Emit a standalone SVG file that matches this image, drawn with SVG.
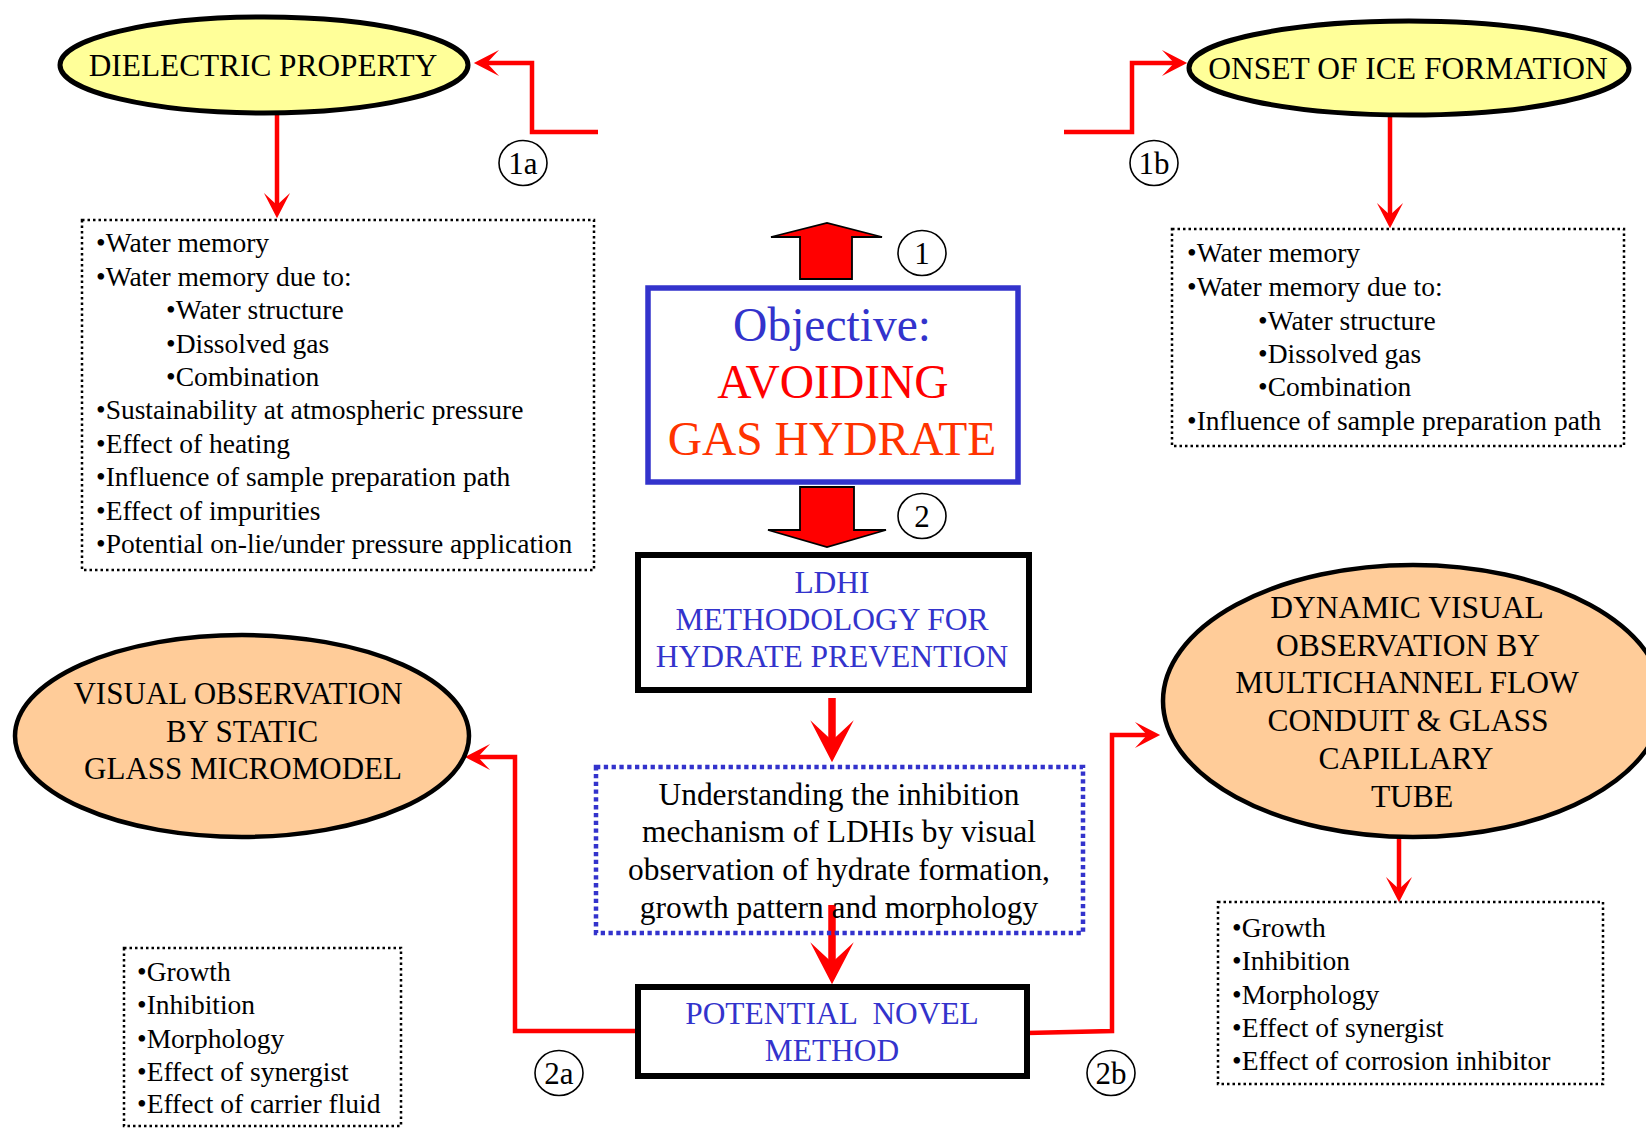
<svg xmlns="http://www.w3.org/2000/svg" width="1646" height="1128" viewBox="0 0 1646 1128">
<defs>
<style>
.t{font-family:"Liberation Serif","Times New Roman",serif;fill:#000;}
.c{text-anchor:middle;}
.pre{white-space:pre;}
.list{font-size:27.5px;}
.blue{fill:#3333CC;}
.yel{fill:#FFFF99;stroke:#000;stroke-width:5;}
.peach{fill:#FFCC99;stroke:#000;stroke-width:4.5;}
.dot{fill:none;stroke:#000;stroke-width:2.5;stroke-dasharray:2.5 3;}
.bdot{fill:none;stroke:#3333CC;stroke-width:4.5;stroke-dasharray:4.3 3.5;}
.thick{fill:#fff;stroke:#000;stroke-width:6;}
.lab{fill:#fff;stroke:#000;stroke-width:1.6;}
.labt{font-size:31px;text-anchor:middle;}
.conn{fill:none;stroke:#FF0000;stroke-width:4.5;marker-end:url(#ah);}
.connw{fill:none;stroke:#FF0000;stroke-width:7.5;marker-end:url(#ah);}
.block{fill:#FF0000;stroke:#000;stroke-width:1.8;}
</style>
<marker id="ah" viewBox="-6.5 -3.5 7 7" refX="-2.7" refY="0" markerWidth="7" markerHeight="7" orient="auto" markerUnits="strokeWidth">
<path d="M0,0 L-5.6,-2.9 L-2.9,0 L-5.6,2.9 Z" fill="#FF0000"/>
</marker>
</defs>
<rect width="1646" height="1128" fill="#fff"/>

<g id="connectors">
<polyline class="conn" points="598,132 532,132 532,63 486,63"/>
<polyline class="conn" points="1064,132 1132,132 1132,63 1175,63"/>
<line class="conn" x1="277" y1="113" x2="277" y2="206"/>
<line class="conn" x1="1390" y1="115" x2="1390" y2="216"/>
<line class="connw" x1="832" y1="698" x2="832" y2="742"/>
<line class="connw" x1="832" y1="905" x2="832" y2="964"/>
<line class="conn" x1="1399" y1="826" x2="1399" y2="890"/>
<polyline class="conn" points="638,1031 515,1031 515,757 477,757"/>
<polyline class="conn" points="1027,1033 1112,1031 1112,735 1148,735"/>
<path class="block" d="M800,279 L800,237 L771,237 L827,223 L882,237 L852,237 L852,279 Z"/>
<path class="block" d="M800,487 L854,487 L854,530 L886,530 L827,547 L768,530 L800,530 Z"/>
</g>

<g id="n-dielectric">
<ellipse class="yel" cx="264" cy="65" rx="204" ry="48"/>
<text class="t c" x="263" y="76" font-size="31.3">DIELECTRIC PROPERTY</text>
</g>

<g id="n-onset">
<ellipse class="yel" cx="1409" cy="68" rx="220" ry="47"/>
<text class="t c" x="1408" y="79" font-size="31.5">ONSET OF ICE FORMATION</text>
</g>

<g id="l-1a"><ellipse class="lab" cx="523" cy="163" rx="24" ry="22.5"/><text class="t labt" x="523" y="174">1a</text></g>
<g id="l-1b"><ellipse class="lab" cx="1154" cy="163" rx="24" ry="22.5"/><text class="t labt" x="1154" y="174">1b</text></g>
<g id="l-1"><ellipse class="lab" cx="922" cy="253" rx="24" ry="22.5"/><text class="t labt" x="922" y="264">1</text></g>
<g id="l-2"><ellipse class="lab" cx="922" cy="516" rx="24" ry="22.5"/><text class="t labt" x="922" y="527">2</text></g>
<g id="l-2a"><ellipse class="lab" cx="559" cy="1073" rx="24" ry="22.5"/><text class="t labt" x="559" y="1084">2a</text></g>
<g id="l-2b"><ellipse class="lab" cx="1111" cy="1073" rx="24" ry="22.5"/><text class="t labt" x="1111" y="1084">2b</text></g>

<g id="n-left-list">
<rect class="dot" x="82" y="220" width="512" height="350"/>
<g class="t list pre">
<text x="96" y="252">•Water memory</text>
<text x="96" y="286">•Water memory  due to:</text>
<text x="166" y="319">•Water structure</text>
<text x="166" y="353">•Dissolved gas</text>
<text x="166" y="386">•Combination</text>
<text x="96" y="419">•Sustainability  at atmospheric  pressure</text>
<text x="96" y="453">•Effect of heating</text>
<text x="96" y="486">•Influence  of sample  preparation  path</text>
<text x="96" y="520">•Effect  of impurities</text>
<text x="96" y="553">•Potential  on-lie/under  pressure  application</text>
</g>
</g>

<g id="n-right-list">
<rect class="dot" x="1172" y="229" width="452" height="217"/>
<g class="t list pre">
<text x="1187" y="262">•Water memory</text>
<text x="1187" y="296">•Water memory  due to:</text>
<text x="1258" y="330">•Water structure</text>
<text x="1258" y="363">•Dissolved gas</text>
<text x="1258" y="396">•Combination</text>
<text x="1187" y="430">•Influence  of sample  preparation  path</text>
</g>
</g>

<g id="n-objective">
<rect x="648" y="288" width="370" height="194" fill="#fff" stroke="#3333CC" stroke-width="5.5"/>
<text class="t c" x="832" y="341" font-size="47.5" style="fill:#3333CC">Objective:</text>
<text class="t c" x="833" y="398" font-size="47.5" style="fill:#FF0000">AVOIDING</text>
<text class="t c" x="832" y="455" font-size="47.5" style="fill:#FF3300">GAS HYDRATE</text>
</g>

<g id="n-ldhi">
<rect class="thick" x="638" y="555" width="391" height="135"/>
<text class="t c blue" x="832" y="593" font-size="31.5">LDHI</text>
<text class="t c blue" x="832" y="630" font-size="31.5">METHODOLOGY FOR</text>
<text class="t c blue" x="832" y="667" font-size="31.5">HYDRATE PREVENTION</text>
</g>

<g id="n-understanding">
<rect class="bdot" x="596" y="767" width="487" height="166"/>
<g class="t c pre" font-size="31.4">
<text x="839" y="805">Understanding  the inhibition</text>
<text x="839" y="842">mechanism  of LDHIs by visual</text>
<text x="839" y="880">observation  of hydrate  formation,</text>
<text x="839" y="918">growth  pattern and morphology</text>
</g>
</g>

<g id="n-potential">
<rect class="thick" x="638" y="987" width="389" height="89"/>
<text class="t c blue pre" x="832" y="1024" font-size="31.4">POTENTIAL  NOVEL</text>
<text class="t c blue" x="832" y="1061" font-size="31.4">METHOD</text>
</g>

<g id="n-visual">
<ellipse class="peach" cx="242" cy="736" rx="227" ry="101"/>
<g class="t c" font-size="31">
<text x="238" y="704">VISUAL OBSERVATION</text>
<text x="242" y="742">BY STATIC</text>
<text x="243" y="779">GLASS MICROMODEL</text>
</g>
</g>

<g id="n-dynamic">
<ellipse class="peach" cx="1413" cy="701" rx="250" ry="136"/>
<g class="t c pre" font-size="31.5">
<text x="1407" y="618">DYNAMIC VISUAL</text>
<text x="1408" y="656">OBSERVATION  BY</text>
<text x="1407" y="693">MULTICHANNEL FLOW</text>
<text x="1408" y="731">CONDUIT &amp; GLASS</text>
<text x="1406" y="769">CAPILLARY</text>
<text x="1412" y="807">TUBE</text>
</g>
</g>

<g id="n-left-bottom-list">
<rect class="dot" x="124" y="948" width="277" height="178"/>
<g class="t list pre">
<text x="137" y="981">•Growth</text>
<text x="137" y="1014">•Inhibition</text>
<text x="137" y="1048">•Morphology</text>
<text x="137" y="1081">•Effect of synergist</text>
<text x="137" y="1113">•Effect of carrier  fluid</text>
</g>
</g>

<g id="n-right-bottom-list">
<rect class="dot" x="1218" y="902" width="385" height="182"/>
<g class="t list pre">
<text x="1232" y="937">•Growth</text>
<text x="1232" y="970">•Inhibition</text>
<text x="1232" y="1004">•Morphology</text>
<text x="1232" y="1037">•Effect  of synergist</text>
<text x="1232" y="1070">•Effect  of corrosion  inhibitor</text>
</g>
</g>
</svg>
